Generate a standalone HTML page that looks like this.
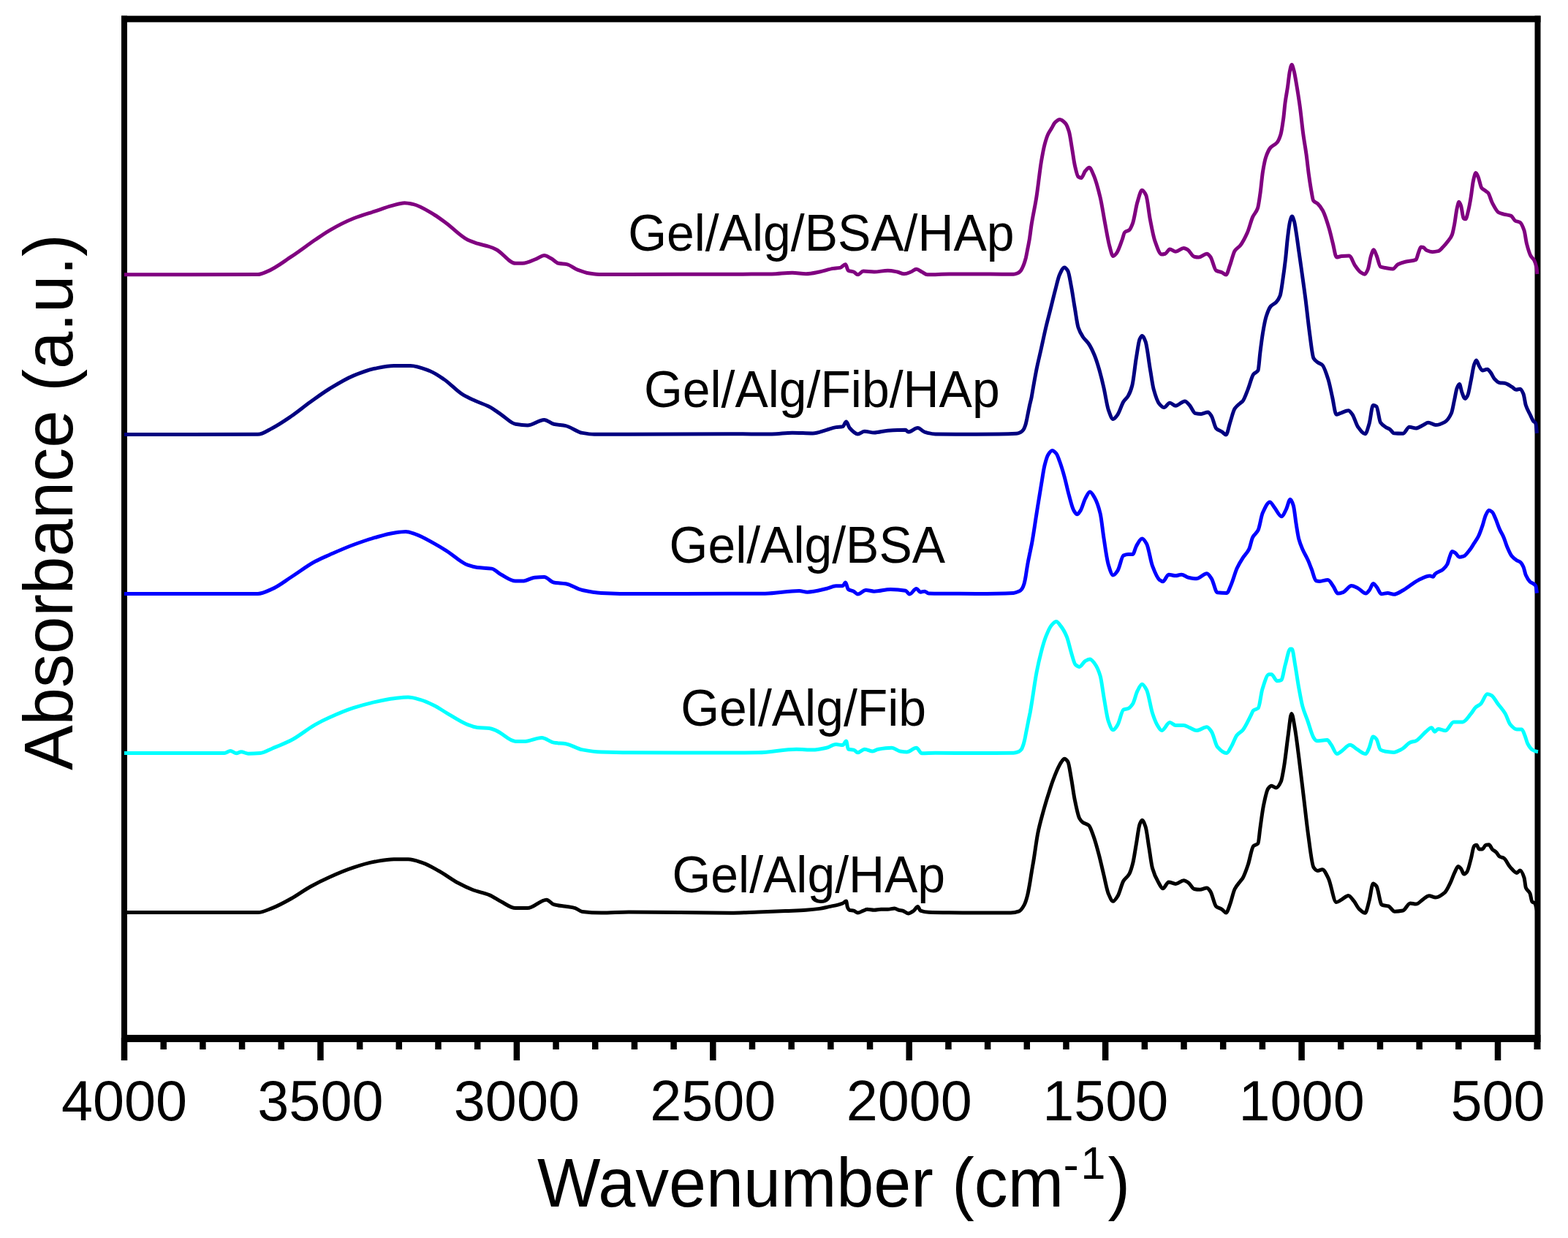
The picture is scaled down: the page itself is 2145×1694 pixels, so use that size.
<!DOCTYPE html>
<html><head><meta charset="utf-8"><title>FTIR spectra</title>
<style>
html,body{margin:0;padding:0;background:#fff;}
body{width:2145px;height:1694px;overflow:hidden;}
svg{display:block;}
text{font-family:"Liberation Sans",Arial,sans-serif;fill:#000;}
</style></head><body>
<svg width="2145" height="1694" viewBox="0 0 2145 1694">
<rect width="2145" height="1694" fill="#fff"/>
<g fill="#000">
<rect x="166" y="21.6" width="8" height="1429.4"/>
<rect x="2099.5" y="21.6" width="8" height="1414.4"/>
<rect x="166" y="21.6" width="1941.5" height="8.8"/>
<rect x="166" y="1416" width="1941.5" height="10"/>
<rect x="165.75" y="1420" width="8.5" height="31.0"/>
<rect x="219.44" y="1420" width="8.5" height="16.0"/>
<rect x="273.12" y="1420" width="8.5" height="16.0"/>
<rect x="326.81" y="1420" width="8.5" height="16.0"/>
<rect x="380.49" y="1420" width="8.5" height="16.0"/>
<rect x="434.18" y="1420" width="8.5" height="31.0"/>
<rect x="487.87" y="1420" width="8.5" height="16.0"/>
<rect x="541.55" y="1420" width="8.5" height="16.0"/>
<rect x="595.24" y="1420" width="8.5" height="16.0"/>
<rect x="648.92" y="1420" width="8.5" height="16.0"/>
<rect x="702.61" y="1420" width="8.5" height="31.0"/>
<rect x="756.30" y="1420" width="8.5" height="16.0"/>
<rect x="809.98" y="1420" width="8.5" height="16.0"/>
<rect x="863.67" y="1420" width="8.5" height="16.0"/>
<rect x="917.35" y="1420" width="8.5" height="16.0"/>
<rect x="971.04" y="1420" width="8.5" height="31.0"/>
<rect x="1024.73" y="1420" width="8.5" height="16.0"/>
<rect x="1078.41" y="1420" width="8.5" height="16.0"/>
<rect x="1132.10" y="1420" width="8.5" height="16.0"/>
<rect x="1185.78" y="1420" width="8.5" height="16.0"/>
<rect x="1239.47" y="1420" width="8.5" height="31.0"/>
<rect x="1293.16" y="1420" width="8.5" height="16.0"/>
<rect x="1346.84" y="1420" width="8.5" height="16.0"/>
<rect x="1400.53" y="1420" width="8.5" height="16.0"/>
<rect x="1454.21" y="1420" width="8.5" height="16.0"/>
<rect x="1507.90" y="1420" width="8.5" height="31.0"/>
<rect x="1561.59" y="1420" width="8.5" height="16.0"/>
<rect x="1615.27" y="1420" width="8.5" height="16.0"/>
<rect x="1668.96" y="1420" width="8.5" height="16.0"/>
<rect x="1722.64" y="1420" width="8.5" height="16.0"/>
<rect x="1776.33" y="1420" width="8.5" height="31.0"/>
<rect x="1830.02" y="1420" width="8.5" height="16.0"/>
<rect x="1883.70" y="1420" width="8.5" height="16.0"/>
<rect x="1937.39" y="1420" width="8.5" height="16.0"/>
<rect x="1991.07" y="1420" width="8.5" height="16.0"/>
<rect x="2044.76" y="1420" width="8.5" height="31.0"/>
<rect x="2098.45" y="1420" width="8.5" height="16.0"/>
</g>
<g fill="none" stroke-width="5.0" stroke-linejoin="round" stroke-linecap="butt">
<path d="M170 1248.5C230.9 1248.5 291.9 1248.5 352.8 1248.5C359.3 1248.5 365.8 1245 372.3 1242.6C381 1239.3 389.8 1234.4 398.5 1229.5C407.2 1224.7 415.9 1218 424.6 1213.2C433.3 1208.4 442 1204.1 450.7 1200.2C461.6 1195.3 472.4 1190.6 483.3 1187.1C493.1 1183.9 502.9 1180.7 512.7 1179C521.4 1177.5 530.1 1175.7 538.8 1175.7C545.3 1175.7 551.9 1175.7 558.4 1175.7C564.9 1175.7 571.5 1178.4 578 1180.6C585.6 1183.1 593.2 1187.8 600.8 1192C609.5 1196.8 618.2 1203.7 626.9 1208.3C633.4 1211.8 640 1215 646.5 1217.5C654.1 1220.4 661.7 1221.5 669.3 1224.6C674.8 1226.8 680.2 1231.1 685.7 1233.8C692.2 1237.1 698.7 1242.6 705.2 1242.6C710.7 1242.6 716.1 1242.6 721.6 1242.6C730.3 1242.6 739 1231.2 747.7 1231.2C751 1231.2 754.2 1236.8 757.5 1237.7C762.9 1239.2 768.4 1239.4 773.8 1240.3C778.1 1241 782.5 1241.4 786.8 1242.6C790.1 1243.5 793.3 1247.1 796.6 1247.5C805.3 1248.6 814 1249.1 822.7 1249.1C835.1 1249.1 847.6 1248 860 1248C906.7 1248 953.3 1249.2 1000 1249.2C1012.4 1249.2 1024.9 1248.4 1037.3 1248C1049.7 1247.6 1062.2 1247 1074.6 1246.5C1083.9 1246.1 1093.3 1245.9 1102.6 1245.3C1108.8 1244.9 1115 1244.3 1121.2 1243.4C1125.6 1242.8 1129.9 1241.5 1134.3 1240.6C1138.6 1239.7 1143 1238.9 1147.3 1237.8C1149.2 1237.3 1151 1236.8 1152.9 1236C1154.5 1235.3 1156 1233.1 1157.6 1233.1C1158.2 1233.1 1158.8 1240.2 1159.4 1241.5C1160.3 1243.5 1161.3 1245 1162.2 1245.3C1164.1 1245.9 1165.9 1245.7 1167.8 1246.2C1169.7 1246.7 1171.5 1249 1173.4 1249C1175.9 1249 1178.4 1247.1 1180.9 1246.2C1182.8 1245.5 1184.6 1244.3 1186.5 1244.3C1189.6 1244.3 1192.7 1245.3 1195.8 1245.3C1198.9 1245.3 1202 1244.3 1205.1 1244.3C1208.2 1244.3 1211.4 1244.3 1214.5 1244.3C1217.6 1244.3 1220.7 1243 1223.8 1243C1225.7 1243 1227.5 1244.9 1229.4 1245.3C1231.3 1245.7 1233.1 1245.8 1235 1246.2C1237.5 1246.8 1239.9 1249.9 1242.4 1249.9C1244.9 1249.9 1247.4 1247.9 1249.9 1246.2C1251.8 1244.9 1253.6 1240.6 1255.5 1240.6C1256.7 1240.6 1258 1245.7 1259.2 1246.2C1262.9 1247.6 1266.7 1248.2 1270.4 1248.3C1279.7 1248.6 1289.1 1248.7 1298.4 1248.8C1310.8 1248.9 1323.3 1249 1335.7 1249C1351.4 1249 1367 1249.1 1382.7 1249.1C1386.5 1249.1 1390.4 1248.2 1394.2 1246.8C1396.5 1245.9 1398.9 1242.3 1401.2 1238.1C1402.6 1235.5 1404.1 1230.9 1405.5 1225.4C1406.4 1221.8 1407.4 1216.4 1408.3 1211.2C1409.3 1205.8 1410.2 1199.3 1411.2 1193.5C1412.1 1187.9 1413.1 1182.7 1414 1177C1415.9 1165.4 1417.8 1149.9 1419.7 1140.4C1422 1128.7 1424.4 1120.7 1426.7 1112.1C1429.1 1103.4 1431.4 1095.5 1433.8 1088C1436.2 1080.5 1438.5 1073 1440.9 1066.7C1443.3 1060.4 1445.6 1054.5 1448 1049.7C1449.3 1047 1450.7 1044.3 1452 1042.5C1453.4 1040.7 1454.7 1038.2 1456.1 1038.2C1457.7 1038.2 1459.2 1039.9 1460.8 1042.2C1462.4 1044.5 1464 1057.3 1465.6 1066C1467.2 1074.6 1468.7 1086.9 1470.3 1094.5C1472.4 1104.8 1474.6 1116.1 1476.7 1119.9C1478.3 1122.7 1479.8 1124.3 1481.4 1125.4C1484.1 1127.3 1486.7 1127.2 1489.4 1129.4C1491.5 1131.2 1493.6 1137.9 1495.7 1143.6C1498.3 1150.7 1501 1160.6 1503.6 1170.6C1505.7 1178.7 1507.9 1188.7 1510 1197.5C1512.1 1206.1 1514.2 1218.1 1516.3 1222.9C1518.4 1227.8 1520.6 1233.2 1522.7 1233.2C1524.8 1233.2 1526.9 1229.4 1529 1226.1C1531.6 1222 1534.3 1209.7 1536.9 1205.4C1539.5 1201.1 1542.2 1200.6 1544.8 1195.9C1546.4 1193.1 1548 1187.9 1549.6 1181.7C1551.2 1175.5 1552.8 1163.8 1554.4 1154.7C1556 1145.8 1557.5 1131.9 1559.1 1127.8C1560.2 1125 1561.2 1122.2 1562.3 1122.2C1563.9 1122.2 1565.4 1126.5 1567 1131C1568.6 1135.5 1570.2 1149.9 1571.8 1159.5C1573.4 1168.9 1574.9 1182.4 1576.5 1188C1579.2 1197.5 1581.8 1202.4 1584.5 1207C1586.6 1210.7 1588.7 1215.8 1590.8 1215.8C1593.4 1215.8 1596.1 1207 1598.7 1207C1601.9 1207 1605 1209.4 1608.2 1209.4C1611.9 1209.4 1615.6 1204.7 1619.3 1204.7C1621.4 1204.7 1623.6 1206.4 1625.7 1207.8C1628.3 1209.5 1631 1216 1633.6 1216.5C1636.2 1217 1638.9 1217.3 1641.5 1217.3C1644.7 1217.3 1647.8 1215 1651 1215C1652.6 1215 1654.2 1217.5 1655.8 1219.7C1658.4 1223.3 1661.1 1238.1 1663.7 1240.3C1666.3 1242.5 1669 1242.6 1671.6 1244.3C1673.5 1245.5 1675.3 1249 1677.2 1249C1679 1249 1680.9 1241.9 1682.7 1237.2C1684.8 1231.7 1687 1220.7 1689.1 1216.5C1691.7 1211.3 1694.4 1208.9 1697 1205.4C1698 1204.1 1699 1203.2 1700 1201.6C1702.4 1197.7 1704.9 1190.4 1707.3 1183.3C1709.7 1176.2 1712.2 1160.1 1714.6 1157.7C1716.7 1155.6 1718.9 1156.6 1721 1154C1721.9 1152.9 1722.9 1140.4 1723.8 1133.9C1725.3 1123.2 1726.9 1110.3 1728.4 1102.8C1730.5 1092.4 1732.7 1081.8 1734.8 1079C1736.3 1077.1 1737.8 1075.3 1739.3 1075.3C1741.5 1075.3 1743.6 1078 1745.8 1078C1747.9 1078 1750.1 1074.3 1752.2 1069.8C1753.7 1066.6 1755.2 1056.7 1756.7 1047.8C1758.5 1037 1760.4 1018.5 1762.2 1005.8C1763.7 995.2 1765.3 976.5 1766.8 976.5C1768.3 976.5 1769.9 988.3 1771.4 996.6C1773.2 1006.6 1775.1 1022.7 1776.9 1036.9C1779.3 1055.8 1781.8 1077.1 1784.2 1097.3C1786 1112.5 1787.9 1130.1 1789.7 1143C1792.1 1160.1 1794.6 1183.4 1797 1186.9C1798.8 1189.5 1800.7 1191.5 1802.5 1191.5C1804.6 1191.5 1806.8 1189.7 1808.9 1189.7C1811.6 1189.7 1814.4 1196.3 1817.1 1201.6C1820.8 1208.6 1824.4 1234.5 1828.1 1234.5C1830.5 1234.5 1833 1232.2 1835.4 1230.9C1838.5 1229.2 1841.5 1225.4 1844.6 1225.4C1847 1225.4 1849.5 1229.8 1851.9 1232.7C1854.3 1235.6 1856.8 1241.4 1859.2 1243.7C1862 1246.3 1864.7 1249.2 1867.5 1249.2C1869.3 1249.2 1871.2 1239.2 1873 1232.7C1874.8 1226.3 1876.6 1208.9 1878.4 1208.9C1879.9 1208.9 1881.5 1210.7 1883 1212.6C1885.4 1215.6 1887.9 1237.3 1890.3 1238.2C1893.4 1239.4 1896.4 1239 1899.5 1240C1902.3 1240.9 1905.1 1247.2 1907.9 1247.2C1911.6 1247.2 1915.4 1246.7 1919.1 1246C1922.5 1245.3 1925.8 1235.9 1929.2 1235.9C1931.8 1235.9 1934.4 1237.1 1937 1237.1C1940.4 1237.1 1943.7 1232.4 1947.1 1230.3C1949.7 1228.7 1952.4 1225.8 1955 1225.8C1958 1225.8 1960.9 1228.1 1963.9 1228.1C1968 1228.1 1972.2 1224.9 1976.3 1221.4C1978.9 1219.2 1981.5 1213.2 1984.1 1207.9C1986 1204.1 1987.8 1198.2 1989.7 1194.4C1991.4 1191 1993.1 1185.5 1994.8 1185.5C1996.1 1185.5 1997.4 1187.3 1998.7 1188.8C2000 1190.3 2001.3 1196.1 2002.6 1196.1C2003.9 1196.1 2005.3 1194.8 2006.6 1193.3C2008.5 1191.2 2010.3 1182.1 2012.2 1175.4C2013.7 1170 2015.2 1158.3 2016.7 1157.4C2017.8 1156.8 2018.9 1156.3 2020 1156.3C2021.1 1156.3 2022.3 1161.9 2023.4 1161.9C2024.9 1161.9 2026.4 1161.9 2027.9 1161.9C2029.4 1161.9 2030.9 1156.7 2032.4 1156.3C2033.9 1155.9 2035.4 1155.7 2036.9 1155.7C2038.4 1155.7 2039.8 1160.4 2041.3 1161.9C2043.2 1163.8 2045.1 1164.5 2047 1166.4C2048.5 1167.8 2049.9 1171.1 2051.4 1172C2053.3 1173.2 2055.2 1173.1 2057.1 1174.2C2060.1 1175.9 2063 1183.4 2066 1186.6C2069 1189.8 2072 1194.4 2075 1194.4C2076.5 1194.4 2078 1191.1 2079.5 1191.1C2081.4 1191.1 2083.2 1195.6 2085.1 1201.2C2085.8 1203.4 2086.6 1212.8 2087.3 1214.6C2089.2 1219.3 2091.1 1218.4 2093 1222.5C2093.9 1224.5 2094.9 1232.7 2095.8 1233.7C2097.1 1235 2098.4 1234.6 2099.7 1235.9C2100.8 1237 2101.9 1244 2103 1248" stroke="#000000"/>
<path d="M170 1030.5C215.7 1030.5 261.3 1030.5 307 1030.5C309.7 1030.5 312.5 1027.5 315.2 1027.5C317.9 1027.5 320.7 1030.8 323.4 1030.8C325.6 1030.8 327.7 1028.8 329.9 1028.8C333.2 1028.8 336.4 1031.2 339.7 1031.2C345.1 1031.2 350.6 1030.9 356 1030.5C361.4 1030.1 366.9 1026.4 372.3 1024.2C381 1020.6 389.8 1017.3 398.5 1012.8C409.4 1007.2 420.2 997.7 431.1 991.6C437.6 987.9 444.2 984.7 450.7 981.8C461.6 976.9 472.4 972.2 483.3 968.7C493.1 965.5 502.9 962.8 512.7 960.6C521.4 958.7 530.1 956.7 538.8 955.7C545.3 955 551.9 954.1 558.4 954.1C563.8 954.1 569.3 955.9 574.7 957.3C581.2 959 587.8 962.3 594.3 965.5C599.7 968.2 605.2 972.2 610.6 975.3C620.4 981 630.2 987.9 640 991.6C644.3 993.2 648.7 995 653 995.5C658.4 996.1 663.9 995.9 669.3 996.5C672.6 996.9 675.8 998.5 679.1 999.8C687.8 1003.3 696.5 1014.4 705.2 1014.4C709.6 1014.4 713.9 1014.4 718.3 1014.4C725.9 1014.4 733.5 1009.5 741.1 1009.5C746.6 1009.5 752 1015.2 757.5 1016.1C762.9 1017 768.4 1016.9 773.8 1017.7C781.4 1018.8 789 1024.5 796.6 1025.9C805.3 1027.5 814 1028.8 822.7 1029.1C835.1 1029.5 847.6 1029.8 860 1029.8C906.7 1029.9 953.3 1030 1000 1030C1012.4 1030 1024.9 1029.9 1037.3 1029.8C1054.7 1029.6 1072.1 1025.2 1089.5 1025.2C1097 1025.2 1104.4 1026.1 1111.9 1026.1C1118.1 1026.1 1124.3 1024.6 1130.5 1023.3C1134.9 1022.4 1139.2 1018.6 1143.6 1018.6C1146.7 1018.6 1149.8 1019.6 1152.9 1019.6C1154.5 1019.6 1156 1014 1157.6 1014C1158.5 1014 1159.5 1024.9 1160.4 1025.2C1162.9 1025.9 1165.3 1025.6 1167.8 1026.1C1169.7 1026.5 1171.5 1029.8 1173.4 1029.8C1176.5 1029.8 1179.6 1025.2 1182.7 1025.2C1186.4 1025.2 1190.2 1028 1193.9 1028C1196.4 1028 1198.9 1025.6 1201.4 1025.2C1207.6 1024.1 1213.8 1023.3 1220 1023.3C1223.7 1023.3 1227.5 1027.4 1231.2 1028C1234.3 1028.5 1237.5 1028.9 1240.6 1028.9C1244.9 1028.9 1249.3 1023.3 1253.6 1023.3C1256.1 1023.3 1258.6 1030.8 1261.1 1030.8C1267.3 1030.8 1273.5 1030.3 1279.7 1030.3C1298.4 1030.3 1317 1030.5 1335.7 1030.5C1352.6 1030.5 1369.6 1030.5 1386.5 1030.3C1388.8 1030.3 1391.1 1029.6 1393.4 1028.7C1394.7 1028.2 1396 1027 1397.3 1025.3C1398.2 1024.2 1399 1021.7 1399.9 1019.1C1400.6 1017.1 1401.2 1014.4 1401.9 1011.5C1402.4 1009.3 1402.9 1006.3 1403.4 1003.8C1404 1000.6 1404.7 997.4 1405.3 994.2C1405.9 991 1406.6 987.7 1407.2 984.6C1407.9 981.3 1408.5 978.5 1409.2 975C1410 970.6 1410.9 965.1 1411.7 960C1413.8 947.1 1415.9 931.3 1418 920.3C1420.1 909.2 1422.3 899.8 1424.4 891.8C1426.5 883.9 1428.6 876.5 1430.7 871.2C1433.3 864.6 1436 858.2 1438.6 855.4C1440.7 853.1 1442.9 850.6 1445 850.6C1447.1 850.6 1449.2 854.2 1451.3 856.9C1454 860.3 1456.6 864.8 1459.3 871.2C1461.4 876.2 1463.5 886.7 1465.6 893.4C1467.4 899.2 1469.3 907.6 1471.1 909.3C1473 911 1474.8 912.4 1476.7 912.4C1479.3 912.4 1482 905.9 1484.6 904.5C1486.7 903.4 1488.9 902.1 1491 902.1C1493.1 902.1 1495.2 905.1 1497.3 907.7C1499.9 911 1502.6 916.3 1505.2 925.1C1506.8 930.4 1508.4 944.6 1510 953.6C1512.1 965.4 1514.2 981.1 1516.3 986.9C1518.4 992.8 1520.6 998.8 1522.7 998.8C1524.8 998.8 1526.9 995 1529 991.7C1531.6 987.6 1534.3 972.3 1536.9 971.1C1539 970.2 1541.2 970.4 1543.3 969.5C1545.4 968.7 1547.5 966.2 1549.6 963.1C1551.7 960 1553.8 949.8 1555.9 945.7C1558 941.6 1560.2 936.2 1562.3 936.2C1564.4 936.2 1566.5 940.2 1568.6 944.1C1571.2 949 1573.9 967.8 1576.5 975.8C1578.6 982.3 1580.8 988.1 1582.9 991.7C1585 995.2 1587.1 999.6 1589.2 999.6C1592.9 999.6 1596.6 988.5 1600.3 988.5C1602.9 988.5 1605.6 992.5 1608.2 992.5C1611.9 992.5 1615.6 992.5 1619.3 992.5C1622 992.5 1624.6 994.5 1627.3 995.6C1630.5 996.9 1633.6 999.6 1636.8 999.6C1641.5 999.6 1646.3 994.8 1651 994.8C1653.1 994.8 1655.3 998.2 1657.4 1001.2C1660 1004.9 1662.7 1018.8 1665.3 1021.8C1669.5 1026.6 1673.8 1030.5 1678 1030.5C1680.1 1030.5 1682.2 1025.2 1684.3 1021.8C1686.9 1017.5 1689.6 1009.1 1692.2 1005.9C1694.8 1002.7 1697.4 1002.1 1700 999.1C1703.7 994.8 1707.5 986 1711.2 978.9C1712.3 976.7 1713.5 973.2 1714.6 972.2C1716.8 970.3 1719.1 970.9 1721.3 968.8C1723.2 967.1 1725 948.8 1726.9 943C1729.9 933.7 1732.9 922.8 1735.9 922.8C1737 922.8 1738.2 922.8 1739.3 922.8C1741.9 922.8 1744.5 931.8 1747.1 931.8C1749 931.8 1750.8 931.4 1752.7 930.7C1754.6 930 1756.4 915.8 1758.3 909.4C1760.6 901.6 1762.8 888 1765.1 888C1765.8 888 1766.6 888 1767.3 888C1768.8 888 1770.3 902.2 1771.8 910.5C1773.3 918.8 1774.8 930.1 1776.3 938.5C1778.2 948.9 1780 959.8 1781.9 966.6C1784.1 974.8 1786.4 979.4 1788.6 985.6C1791.6 994 1794.6 1006.2 1797.6 1010.3C1798.7 1011.9 1799.9 1013.7 1801 1013.7C1805.8 1013.7 1810.7 1012.6 1815.5 1012.6C1817.4 1012.6 1819.3 1016.8 1821.2 1019.3C1823.8 1022.8 1826.4 1031.6 1829 1031.6C1830.9 1031.6 1832.7 1029.5 1834.6 1028.3C1838.7 1025.6 1842.9 1019.3 1847 1019.3C1850 1019.3 1852.9 1023.2 1855.9 1024.9C1860 1027.3 1864.2 1031.6 1868.3 1031.6C1869.8 1031.6 1871.3 1027 1872.8 1023.8C1874.7 1019.8 1876.5 1008.1 1878.4 1008.1C1879.9 1008.1 1881.4 1009.7 1882.9 1011.4C1884.8 1013.5 1886.6 1024.8 1888.5 1026C1890.7 1027.4 1893 1027.9 1895.2 1028.3C1898.9 1028.9 1902.7 1029.4 1906.4 1029.4C1910.3 1029.4 1914.1 1026.9 1918 1024.9C1921.7 1022.9 1925.5 1017.4 1929.2 1015.9C1931.8 1014.8 1934.4 1014.8 1937 1013.7C1941.5 1011.8 1946 1004.9 1950.5 1001.3C1953.1 999.2 1955.7 995.7 1958.3 995.7C1959.8 995.7 1961.3 1001.3 1962.8 1001.3C1964.3 1001.3 1965.8 997.4 1967.3 997.4C1970.7 997.4 1974 999.7 1977.4 999.7C1981.1 999.7 1984.9 987.9 1988.6 987.9C1992.7 987.9 1996.9 987.9 2001 987.9C2004.7 987.9 2008.5 981 2012.2 976.7C2014.4 974.1 2016.7 969.7 2018.9 967.7C2021.1 965.7 2023.4 965.2 2025.6 963.2C2028.6 960.5 2031.6 949.7 2034.6 949.7C2036.5 949.7 2038.3 950.5 2040.2 951.4C2043.2 952.8 2046.2 959.2 2049.2 963.2C2052.6 967.7 2055.9 971 2059.3 976.7C2061.5 980.5 2063.8 988.8 2066 991.3C2069 994.7 2072 998 2075 998C2077.2 998 2079.5 998 2081.7 998C2083.2 998 2084.7 1003.4 2086.2 1007C2087.3 1009.7 2088.5 1014.9 2089.6 1017.1C2091.8 1021.4 2094.1 1024.6 2096.3 1026C2098.2 1027.2 2100 1028 2101.9 1028.3C2102.6 1028.4 2103.3 1028.4 2104 1028.5" stroke="#00ffff"/>
<path d="M170 812.4C230.9 812.4 291.9 812.4 352.8 812.4C359.3 812.4 365.8 808.7 372.3 805.9C381 802.2 389.8 795.1 398.5 789.5C409.4 782.6 420.2 774.1 431.1 768.3C437.6 764.8 444.2 762.1 450.7 759.2C461.6 754.4 472.4 749.5 483.3 745.5C493.1 741.9 502.9 738.5 512.7 735.7C521.4 733.2 530.1 730.4 538.8 729.2C544.2 728.4 549.7 727.5 555.1 727.5C559.5 727.5 563.8 729.4 568.2 730.8C576.9 733.6 585.6 739.1 594.3 743.9C599.7 746.9 605.2 750.2 610.6 753.6C620.4 759.7 630.2 769.8 640 773.2C644.3 774.7 648.7 775.9 653 776.5C659.5 777.3 666.1 777.1 672.6 778.1C677 778.8 681.3 784 685.7 786.3C692.2 789.7 698.7 795.1 705.2 795.1C708.5 795.1 711.7 795.1 715 795.1C720.5 795.1 725.9 790.7 731.4 790.2C735.7 789.8 740.1 789.5 744.4 789.5C748.8 789.5 753.1 796.2 757.5 797C762.9 798 768.4 797.8 773.8 798.7C781.4 799.9 789 805.8 796.6 807.5C805.3 809.4 814 811 822.7 811.4C838.5 812.1 854.2 812.6 870 812.6C913.3 812.6 956.7 812.2 1000 812.2C1015.5 812.2 1031.1 812.2 1046.6 812.2C1062.1 812.2 1077.7 808.5 1093.2 808.5C1096.9 808.5 1100.7 810.2 1104.4 810.2C1113.1 810.2 1121.8 807.5 1130.5 805.5C1134.9 804.5 1139.2 801.8 1143.6 801.8C1146.7 801.8 1149.8 801.8 1152.9 801.8C1154.1 801.8 1155.4 797.1 1156.6 797.1C1157.9 797.1 1159.1 805.5 1160.4 806.4C1162.9 808.2 1165.3 808 1167.8 809.2C1169.7 810.1 1171.5 813 1173.4 813C1177.1 813 1180.9 807.4 1184.6 807.4C1188.3 807.4 1192.1 809.2 1195.8 809.2C1203.3 809.2 1210.7 806.4 1218.2 806.4C1225 806.4 1231.9 807 1238.7 808.3C1240.6 808.7 1242.4 813 1244.3 813C1247.4 813 1250.5 805.5 1253.6 805.5C1255.5 805.5 1257.3 810.2 1259.2 810.2C1261.1 810.2 1262.9 809.2 1264.8 809.2C1266.7 809.2 1268.5 812 1270.4 812C1276.6 812.2 1282.8 812.2 1289 812.2C1304.6 812.3 1320.1 812.4 1335.7 812.4C1352.6 812.4 1369.6 812.2 1386.5 811.4C1389.1 811.3 1391.6 810.3 1394.2 809.1C1395.5 808.5 1396.7 807.4 1398 805.7C1399 804.3 1400.1 801.7 1401.1 798.4C1401.7 796.4 1402.4 792.9 1403 789.5C1403.5 786.8 1404 783 1404.5 779.9C1405 776.6 1405.6 773.2 1406.1 770.3C1406.7 766.8 1407.4 763.9 1408 760.8C1408.4 758.8 1408.8 756.9 1409.2 755C1410 750.9 1410.9 747.2 1411.7 742.7C1413.8 731.3 1415.9 716.1 1418 703C1420.1 689.7 1422.3 676.1 1424.4 663.4C1426 654.1 1427.5 642.6 1429.1 636.5C1430.7 630.2 1432.3 624.7 1433.9 622.2C1435.7 619.4 1437.6 616.6 1439.4 616.6C1441.3 616.6 1443.1 618.5 1445 620.6C1446.6 622.3 1448.1 627.5 1449.7 631.7C1451.8 637.5 1454 644.7 1456.1 652.3C1458.2 659.8 1460.3 670.2 1462.4 677.7C1464.5 685.3 1466.7 694.7 1468.8 698.3C1470.4 700.9 1471.9 703.8 1473.5 703.8C1475.1 703.8 1476.7 700.8 1478.3 698.3C1480.4 695 1482.5 686.3 1484.6 682.4C1486.7 678.4 1488.9 672.9 1491 672.9C1493.1 672.9 1495.2 677.2 1497.3 680.8C1499.9 685.3 1502.6 692.1 1505.2 703C1506.8 709.6 1508.4 726.2 1510 736.3C1512.1 749.6 1514.2 766.1 1516.3 772.8C1518.4 779.7 1520.6 787 1522.7 787C1524.8 787 1526.9 783.7 1529 780.7C1531.6 777 1534.3 761.3 1536.9 760.1C1539 759.2 1541.2 758.5 1543.3 758.5C1545.4 758.5 1547.5 758.5 1549.6 758.5C1551.2 758.5 1552.8 750.1 1554.4 747.4C1557 742.9 1559.7 737.1 1562.3 737.1C1564.4 737.1 1566.5 740.6 1568.6 744.2C1571.2 748.7 1573.9 767.5 1576.5 774.4C1579.7 782.8 1582.9 791 1586.1 793.4C1587.7 794.6 1589.2 795.8 1590.8 795.8C1593.4 795.8 1596.1 786.2 1598.7 786.2C1601.9 786.2 1605 787.8 1608.2 787.8C1610.9 787.8 1613.5 786.2 1616.2 786.2C1619.4 786.2 1622.5 789.5 1625.7 790.2C1629.4 791 1633.1 791.8 1636.8 791.8C1641.5 791.8 1646.3 784.7 1651 784.7C1653.1 784.7 1655.3 788.6 1657.4 791.8C1660 795.7 1662.7 810.5 1665.3 810.8C1669.5 811.4 1673.8 811.6 1678 811.6C1680.1 811.6 1682.2 804.4 1684.3 799.7C1686.9 793.8 1689.6 783.2 1692.2 777.5C1694.9 771.7 1697.5 767.5 1700.2 763.3C1703 758.9 1705.9 757.2 1708.7 751.4C1710.3 748.1 1712 738.5 1713.6 735.3C1716.1 730.4 1718.6 730.4 1721.1 725.4C1723.2 721.3 1725.2 706.4 1727.3 701.8C1730.6 694.4 1733.9 686.9 1737.2 686.9C1739.3 686.9 1741.3 691.9 1743.4 694.4C1746.7 698.5 1750 706.8 1753.3 706.8C1755.4 706.8 1757.4 700.8 1759.5 696.8C1761.4 693.2 1763.2 683.2 1765.1 683.2C1766.5 683.2 1768 687.4 1769.4 691.9C1770.6 695.8 1771.9 709.1 1773.1 716.7C1774.3 724.3 1775.6 733.1 1776.8 737.7C1778.5 744 1780.1 747.5 1781.8 751.4C1784.3 757.2 1786.7 760.8 1789.2 766.3C1790.9 770 1792.5 774.5 1794.2 778.7C1796.3 783.9 1798.3 794.3 1800.4 794.8C1802.1 795.2 1803.7 795.4 1805.4 795.4C1809.1 795.4 1812.8 793.5 1816.5 793.5C1819 793.5 1821.4 798.8 1823.9 802.2C1826 805 1828 812.1 1830.1 812.1C1832.6 812.1 1835.1 811.2 1837.6 810.3C1841.3 809 1845 801.6 1848.7 801.6C1851.6 801.6 1854.5 803.4 1857.4 804.7C1861.1 806.4 1864.9 812.1 1868.6 812.1C1870.2 812.1 1871.9 809.3 1873.5 807.2C1875.2 805.1 1876.8 798.5 1878.5 798.5C1880.1 798.5 1881.8 801.5 1883.4 803.4C1885.5 805.9 1887.5 812.7 1889.6 812.7C1892.5 812.7 1895.4 811.5 1898.3 811.5C1901.1 811.5 1903.9 813.3 1906.7 813.3C1911.2 813.3 1915.7 809.6 1920.2 807.2C1926.9 803.6 1933.7 796.8 1940.4 793.7C1945.6 791.3 1950.9 788.1 1956.1 788.1C1957.6 788.1 1959.1 789.2 1960.6 789.2C1961.3 789.2 1962.1 786.5 1962.8 785.8C1966.5 782.2 1970.3 782.2 1974 779.1C1975.9 777.5 1977.8 775.8 1979.7 772.4C1980.8 770.5 1981.9 765.2 1983 762.3C1984.1 759.3 1985.3 754.4 1986.4 754.4C1987.9 754.4 1989.4 755.7 1990.9 756.7C1992.8 757.9 1994.6 762.3 1996.5 762.3C1998.4 762.3 2000.2 761.8 2002.1 761.2C2004.7 760.4 2007.3 756.4 2009.9 753.3C2012.2 750.6 2014.4 746.7 2016.7 743.2C2018.6 740.3 2020.4 737.9 2022.3 734.2C2024.2 730.5 2026 725 2027.9 719.6C2029.4 715.3 2030.9 708.2 2032.4 705.1C2033.9 702 2035.4 698.3 2036.9 698.3C2038.4 698.3 2039.8 699.4 2041.3 700.6C2042.8 701.8 2044.3 706.2 2045.8 709.6C2047.7 713.8 2049.5 719.9 2051.4 724.1C2053.3 728.4 2055.2 731 2057.1 735.4C2058.6 738.8 2060 744.3 2061.5 747.7C2063.8 753 2066 758.5 2068.3 761.2C2070.5 763.8 2072.8 765.4 2075 766.8C2076.5 767.7 2078 767.9 2079.5 769C2081 770.1 2082.5 772.5 2084 775.7C2085.1 778 2086.2 784.6 2087.3 787C2089.2 791.2 2091.1 794 2093 795.9C2095.6 798.5 2098.2 797.5 2100.8 801.5C2101.4 802.4 2101.9 808.2 2102.5 811.6" stroke="#0000ff"/>
<path d="M170 594.5C230.9 594.4 291.9 594.5 352.8 594.3C359.3 594.3 365.8 589.2 372.3 585.9C381 581.5 389.8 575.4 398.5 569.5C407.2 563.6 415.9 556.2 424.6 550C433.3 543.8 442 537.3 450.7 532C461.6 525.3 472.4 518.6 483.3 514.1C493.1 510.1 502.9 506.3 512.7 504.3C521.4 502.5 530.1 500.4 538.8 500.4C546.4 500.4 554 500.4 561.6 500.4C570.3 500.4 579.1 504.2 587.8 507.5C594.3 510 600.8 514.6 607.3 519C616 524.9 624.7 535 633.4 540.2C638.9 543.5 644.3 545.8 649.8 548.3C656.3 551.3 662.8 553.1 669.3 556.5C674.8 559.3 680.2 563.7 685.7 567.3C692.2 571.6 698.7 579.2 705.2 580.3C710.7 581.3 716.1 582 721.6 582C729.2 582 736.8 574.4 744.4 574.4C748.8 574.4 753.1 579.3 757.5 580.3C762.9 581.5 768.4 581.5 773.8 582.6C781.4 584.2 789 591.1 796.6 592.4C802.1 593.4 807.5 594.3 813 594.3C828.7 594.3 844.3 594.3 860 594.3C906.7 594.3 953.3 593.8 1000 593.8C1018.6 593.8 1037.3 594 1055.9 594C1065.2 594 1074.6 592.2 1083.9 592.2C1093.2 592.2 1102.6 593 1111.9 593C1118.1 593 1124.3 590 1130.5 588.3C1134.9 587.1 1139.2 585.3 1143.6 584.6C1146.7 584.1 1149.8 584.3 1152.9 583.6C1154.5 583.3 1156 577.1 1157.6 577.1C1159.1 577.1 1160.7 583.8 1162.2 585.5C1165.9 589.7 1169.7 593.9 1173.4 593.9C1176.5 593.9 1179.6 590.2 1182.7 590.2C1187.1 590.2 1191.4 592 1195.8 592C1202 592 1208.3 589.6 1214.5 589.2C1222.6 588.7 1230.6 588.3 1238.7 588.3C1239.9 588.3 1241.2 591.1 1242.4 591.1C1246.8 591.1 1251.1 585.5 1255.5 585.5C1258.6 585.5 1261.7 590.2 1264.8 591.1C1269.8 592.6 1274.7 594 1279.7 594C1298.4 594.2 1317 594.2 1335.7 594.2C1353.9 594.2 1372.1 594.1 1390.3 593.3C1392.2 593.2 1394.2 592.3 1396.1 591.4C1397.4 590.8 1398.7 589.7 1400 588C1400.9 586.9 1401.7 584.7 1402.6 582.2C1403.4 580 1404.1 576.1 1404.9 572.6C1405.5 569.7 1406.2 566.1 1406.8 563C1407.5 559.7 1408.1 556.4 1408.8 553.4C1409.6 550 1410.3 547.7 1411.1 543.8C1411.3 542.8 1411.5 541.4 1411.7 540.2C1413.8 528 1415.9 515.7 1418 505.3C1420.1 494.8 1422.3 486.4 1424.4 476.8C1426.5 467.4 1428.6 457.2 1430.7 448.3C1432.8 439.3 1435 431.4 1437.1 422.9C1439.2 414.5 1441.3 405.5 1443.4 397.6C1445.5 389.7 1447.6 379.8 1449.7 375.4C1451.8 370.9 1454 365.9 1456.1 365.9C1457.7 365.9 1459.2 368 1460.8 370.6C1462.4 373.2 1464 384.4 1465.6 392.8C1467.2 401 1468.7 412.2 1470.3 421.3C1471.9 430.6 1473.5 443.4 1475.1 448.3C1477.2 454.7 1479.3 457.8 1481.4 461C1484.1 465 1486.7 466.5 1489.4 470.5C1492 474.4 1494.7 479.9 1497.3 486.3C1499.4 491.4 1501.5 498.1 1503.6 505.3C1505.7 512.6 1507.9 521.4 1510 530.7C1512.1 539.8 1514.2 554.9 1516.3 560.8C1518.4 566.8 1520.6 573.5 1522.7 573.5C1524.8 573.5 1526.9 570.1 1529 567.2C1531.6 563.6 1534.3 553.8 1536.9 549.7C1539 546.4 1541.2 545.4 1543.3 541.8C1545.1 538.7 1547 534.4 1548.8 527.5C1550.7 520.5 1552.5 500.7 1554.4 489.5C1556 480.1 1557.5 467.6 1559.1 464.1C1560.2 461.7 1561.2 459.4 1562.3 459.4C1563.9 459.4 1565.4 463.3 1567 467.3C1569.1 472.7 1571.3 492.9 1573.4 505.3C1575 514.4 1576.5 526.5 1578.1 532.3C1580.8 542.1 1583.4 549.9 1586.1 552.9C1588.2 555.3 1590.3 557.6 1592.4 557.6C1595 557.6 1597.7 551.3 1600.3 551.3C1602.9 551.3 1605.6 555.3 1608.2 555.3C1612.4 555.3 1616.7 548.9 1620.9 548.9C1623 548.9 1625.2 552.2 1627.3 554.5C1629.9 557.3 1632.6 565.1 1635.2 565.6C1637.8 566.1 1640.5 566.4 1643.1 566.4C1646.3 566.4 1649.4 564 1652.6 564C1654.2 564 1655.8 567 1657.4 569.5C1659.5 572.8 1661.6 584.1 1663.7 586.2C1666.3 588.8 1669 589.2 1671.6 590.9C1673.5 592.1 1675.3 594.9 1677.2 594.9C1679 594.9 1680.9 583.7 1682.7 578.2C1684.8 571.8 1687 562.4 1689.1 559.2C1691.7 555.2 1694.4 553.6 1697 551.3C1698 550.4 1699 550 1700 548.9C1702.4 546.2 1704.9 538.4 1707.3 532.4C1709.7 526.4 1712.2 515.5 1714.6 512.3C1716.7 509.5 1718.9 510.5 1721 506.8C1721.9 505.2 1722.9 490.4 1723.8 483C1725 473.2 1726.3 462.9 1727.5 455.6C1729 446.7 1730.5 438.4 1732 433.6C1734.1 426.8 1736.3 421.4 1738.4 419C1740.9 416.2 1743.3 416.1 1745.8 413.5C1747.6 411.6 1749.4 409.2 1751.2 404.3C1752.4 400.9 1753.7 390.6 1754.9 382.4C1756.1 374.4 1757.3 365.4 1758.5 355C1759.5 346.3 1760.5 333.2 1761.5 325C1762.5 316.8 1763.5 307.9 1764.5 304C1765.5 300.1 1766.5 296 1767.5 296C1768.5 296 1769.5 299.7 1770.5 303C1771.4 306 1772.3 312.7 1773.2 318.3C1774.5 326.2 1775.7 336.1 1777 345C1778.2 353.2 1779.3 361.2 1780.5 369.5C1782.3 382.6 1784.2 395.5 1786 409.8C1787.8 424.1 1789.7 442.4 1791.5 455.6C1793.3 468.8 1795.2 487.1 1797 490.3C1798.8 493.5 1800.7 494.4 1802.5 495.8C1804.6 497.4 1806.8 497.6 1808.9 499.5C1811.6 502 1814.4 510.9 1817.1 519.6C1818.9 525.4 1820.8 535.5 1822.6 543.4C1824.4 551.3 1826.3 567.2 1828.1 567.2C1829.9 567.2 1831.8 566 1833.6 565.4C1837.3 564.2 1840.9 561.7 1844.6 561.7C1846.4 561.7 1848.3 564.7 1850.1 567.2C1852.5 570.5 1855 580.3 1857.4 583.7C1860.8 588.4 1864.1 593.7 1867.5 593.7C1869.3 593.7 1871.2 586 1873 580C1874.8 574.1 1876.6 554.4 1878.4 554.4C1879.9 554.4 1881.5 555.1 1883 556.2C1884.8 557.5 1886.7 575.5 1888.5 578.2C1890.9 581.8 1893.4 583.1 1895.8 584.6C1897.6 585.7 1899.5 586.1 1901.3 587.3C1903.1 588.5 1905 592.6 1906.8 592.8C1910.9 593.2 1915 593.3 1919.1 593.3C1922.1 593.3 1925 584.3 1928 584.3C1931 584.3 1934 586 1937 586C1940.4 586 1943.7 583.1 1947.1 581.5C1949.3 580.5 1951.6 578.2 1953.8 578.2C1957.2 578.2 1960.5 581.5 1963.9 581.5C1968 581.5 1972.2 579.8 1976.3 577.6C1979.3 576 1982.3 572.2 1985.3 565.8C1986.8 562.7 1988.2 553.4 1989.7 546.8C1990.8 541.7 1992 533.9 1993.1 531.1C1994.2 528.3 1995.4 525.5 1996.5 525.5C1997.6 525.5 1998.7 533.9 1999.8 536.7C2001.3 540.5 2002.8 545.6 2004.3 545.6C2005.4 545.6 2006.6 543.4 2007.7 541.2C2009.2 538.3 2010.7 528.1 2012.2 521C2013.7 513.9 2015.2 502.6 2016.7 498.5C2017.6 495.9 2018.6 492.9 2019.5 492.9C2020.8 492.9 2022.1 498.7 2023.4 500.8C2024.9 503.2 2026.4 506.9 2027.9 506.9C2030.1 506.9 2032.4 505.3 2034.6 505.3C2036.1 505.3 2037.6 507.9 2039.1 509.7C2041 511.9 2042.8 516.8 2044.7 518.7C2046.9 521 2049.2 523.5 2051.4 523.8C2053.7 524.1 2055.9 524 2058.2 524.3C2061.6 524.7 2064.9 527.4 2068.3 529.4C2070.2 530.5 2072 533.3 2073.9 533.3C2075.8 533.3 2077.6 532.2 2079.5 532.2C2081 532.2 2082.5 535.4 2084 538.9C2085.1 541.5 2086.2 551.2 2087.3 554.6C2089.2 560.5 2091.1 563 2093 567C2094.5 570.1 2095.9 574 2097.4 575.9C2098.5 577.4 2099.7 577.1 2100.8 579.3C2101.4 580.4 2101.9 588.3 2102.5 592.8" stroke="#000080"/>
<path d="M170 375.8C230.9 375.7 291.9 375.8 352.8 375.5C357.1 375.5 361.5 373.1 365.8 371.4C376.7 367.1 387.6 358.4 398.5 351.2C409.3 344.1 420.2 335.7 431 328.3C437.6 323.8 444.1 319.1 450.7 315.3C461.6 309 472.4 303.3 483.3 299C493.1 295.1 502.9 292.4 512.7 289.2C520.3 286.7 527.9 283.7 535.5 281.7C541.5 280.1 547.5 277.7 553.5 277.7C557.3 277.7 561.2 278.6 565 279.4C574.8 281.5 584.5 288.2 594.3 294C599.7 297.2 605.2 301.5 610.6 305.5C620.4 312.7 630.2 323.5 640 328.3C644.3 330.4 648.7 331.8 653 333.2C658.4 334.9 663.9 335.7 669.3 337.5C672.5 338.5 675.8 339.8 679 341.4C687.7 345.7 696.5 360.3 705.2 360.3C708.5 360.3 711.7 360.3 715 360.3C721.5 360.3 728.1 356.3 734.6 353.8C737.9 352.5 741.1 349.5 744.4 349.5C747.7 349.5 750.9 352.1 754.2 353.8C757.5 355.5 760.7 359.7 764 360.3C767.8 361.1 771.6 360.9 775.4 361.6C780.3 362.5 785.1 367.3 790 369.1C795.5 371.2 800.9 373.2 806.4 374C811.8 374.8 817.3 375.6 822.7 375.6C835.1 375.6 847.6 375.5 860 375.5C906.7 375.4 953.3 375.3 1000 375.2C1018.6 375.1 1037.3 375.1 1055.9 375C1065.2 374.9 1074.6 373.2 1083.9 373.2C1090.1 373.2 1096.4 374.8 1102.6 374.8C1108.8 374.8 1115 373.2 1121.2 372C1127.4 370.8 1133.7 368.3 1139.9 367.4C1143 367 1146.1 367 1149.2 366.4C1151.7 365.9 1154.1 361.8 1156.6 361.8C1157.9 361.8 1159.1 369.6 1160.4 370.2C1162.9 371.4 1165.3 371.1 1167.8 372C1169.7 372.7 1171.5 375.8 1173.4 375.8C1175.9 375.8 1178.4 371.1 1180.9 371.1C1185.9 371.1 1190.8 372 1195.8 372C1202 372 1208.3 370.2 1214.5 370.2C1218.8 370.2 1223.2 371.2 1227.5 372C1230.6 372.6 1233.7 374.8 1236.8 374.8C1239.9 374.8 1243.1 373.2 1246.2 372C1248.7 371.1 1251.1 368.3 1253.6 368.3C1256.1 368.3 1258.6 370.7 1261.1 372C1263.6 373.2 1266 375.8 1268.5 375.8C1278.5 375.8 1288.4 375 1298.4 375C1317 375 1335.7 375 1354.3 375C1365 375 1375.8 375.3 1386.5 375.3C1388.4 375.3 1390.4 374.5 1392.3 373.7C1393.6 373.2 1394.8 372.1 1396.1 370.7C1397 369.7 1397.9 367.8 1398.8 366C1399.6 364.4 1400.3 362.5 1401.1 360.3C1401.9 358.1 1402.6 355.7 1403.4 352.6C1404 350 1404.7 346.2 1405.3 343C1405.9 339.8 1406.6 336.8 1407.2 333.4C1407.6 331.1 1408.1 328.8 1408.5 326C1409.2 321.3 1410 314.6 1410.7 309.8C1413.1 293.9 1415.6 284.5 1418 268.9C1420.1 255.2 1422.3 234 1424.4 221.3C1426 212 1427.5 203.5 1429.1 197.6C1430.7 191.6 1432.3 186.7 1433.9 183.3C1435.5 179.9 1437 178 1438.6 175.4C1440.2 172.7 1441.8 168.9 1443.4 167.4C1445.5 165.5 1447.6 163.5 1449.7 163.5C1452.4 163.5 1455 166 1457.7 169C1459.3 170.8 1460.8 174.9 1462.4 180.1C1463.7 184.6 1465.1 194.5 1466.4 202.3C1467.7 209.9 1469 220.5 1470.3 226.1C1471.9 233 1473.5 240.8 1475.1 241.9C1476.4 242.8 1477.8 243.5 1479.1 243.5C1480.9 243.5 1482.8 236.1 1484.6 234C1486.5 231.9 1488.3 229.3 1490.2 229.3C1492 229.3 1493.9 234.7 1495.7 238.8C1498.9 245.8 1502 257.2 1505.2 270.5C1507.3 279.5 1509.5 294.2 1511.6 305.3C1513.7 316.3 1515.8 329.5 1517.9 337C1519.5 342.7 1521.1 350.5 1522.7 350.5C1524.3 350.5 1525.8 348.4 1527.4 346.5C1530 343.3 1532.7 334.6 1535.3 327.5C1536.4 324.6 1537.4 319 1538.5 318C1540.6 316 1542.7 316.5 1544.8 314.8C1546.4 313.5 1548 309.6 1549.6 305.3C1551.7 299.6 1553.8 283.7 1555.9 276.8C1558 269.8 1560.2 260.2 1562.3 260.2C1564.1 260.2 1566 263.4 1567.8 267.3C1569.7 271.3 1571.5 291 1573.4 300.6C1575.5 311.4 1577.6 323.1 1579.7 329.1C1582.9 338.1 1586 348.1 1589.2 348.1C1590.8 348.1 1592.4 347.7 1594 347.3C1596.1 346.7 1598.2 341 1600.3 341C1602.9 341 1605.6 344.2 1608.2 344.2C1611.9 344.2 1615.6 339.4 1619.3 339.4C1621.2 339.4 1623 340.7 1624.9 341.8C1627.8 343.5 1630.7 350.7 1633.6 351.3C1635.7 351.8 1637.8 352.1 1639.9 352.1C1643.6 352.1 1647.3 347.3 1651 347.3C1652.6 347.3 1654.2 349.4 1655.8 351.3C1658.4 354.4 1661.1 368.9 1663.7 370.3C1666.3 371.7 1669 371.6 1671.6 372.7C1673.5 373.5 1675.3 375.9 1677.2 375.9C1679 375.9 1680.9 367.3 1682.7 362.4C1684.8 356.7 1687 346.7 1689.1 343.4C1691.7 339.4 1694.4 338.8 1697 335.4C1700.2 331.3 1703.3 325.2 1706.5 318C1708.9 312.5 1711.3 302.2 1713.7 296.9C1716 291.9 1718.2 291.4 1720.5 284.9C1721.7 281.5 1722.8 272.5 1724 264.4C1725.2 256.3 1726.3 242.2 1727.5 235C1728.9 226.4 1730.3 219.1 1731.7 215C1733.8 208.8 1735.9 204.4 1738 202C1741 198.5 1744 198.6 1747 195C1748.7 193 1750.3 189.5 1752 184C1753.3 179.9 1754.5 171 1755.8 161.6C1756.5 156.2 1757.3 146.6 1758 141C1759.2 132.1 1760.3 127 1761.5 119C1762.4 112.6 1763.4 102.4 1764.3 98C1765.2 93.6 1766.2 88.5 1767.1 88.5C1768.1 88.5 1769 93 1770 96.5C1771.4 101.5 1772.8 110.9 1774.2 119.2C1775.6 127.7 1777.1 136.9 1778.5 147.5C1779.9 157.9 1781.3 172.5 1782.7 182.9C1784.1 193.5 1785.6 200.8 1787 211.2C1788.2 219.7 1789.3 231.1 1790.5 239.5C1791.7 247.9 1792.8 255.7 1794 262C1794.9 266.8 1795.8 273.4 1796.7 274.6C1798.7 277.3 1800.7 277 1802.7 278.9C1805 281 1807.3 284.1 1809.6 288.3C1812.4 293.4 1815.3 302.9 1818.1 312.3C1819.8 318.1 1821.6 326.1 1823.3 332.8C1825 339.3 1826.7 352 1828.4 352C1830.7 352 1833 350.7 1835.3 350.5C1838.7 350.2 1842.1 350 1845.5 350C1848.4 350 1851.2 360.1 1854.1 364C1856.4 367.1 1858.6 370.6 1860.9 372.2C1862.9 373.6 1865 375.3 1867 375.3C1868.4 375.3 1869.8 372 1871.2 368.8C1872.6 365.5 1874.1 354.2 1875.5 350C1876.7 346.4 1878 341.8 1879.2 341.8C1880.5 341.8 1881.9 346.9 1883.2 350C1885 354.2 1886.7 364.2 1888.5 365C1890.7 366 1893 366.1 1895.2 366.5C1898.6 367.1 1902 368 1905.4 368C1907.7 368 1910 362.9 1912.3 361.7C1915.7 360 1919 359 1922.4 358.2C1927.3 357 1932.1 357.5 1937 355.4C1938.1 354.9 1939.3 348.7 1940.4 345.8C1941.5 342.9 1942.7 338 1943.8 338C1944.9 338 1946 338.2 1947.1 338.5C1948.6 338.9 1950.1 341.8 1951.6 342.5C1954.2 343.7 1956.9 344.7 1959.5 344.7C1962.1 344.7 1964.7 344.2 1967.3 343.6C1969.5 343.1 1971.8 340.2 1974 338C1976.3 335.8 1978.5 333.2 1980.8 330.1C1982.7 327.6 1984.5 325.8 1986.4 321.2C1987.5 318.5 1988.6 312.3 1989.7 306.6C1990.8 300.7 1992 290.1 1993.1 285.3C1994 281.4 1995 276.3 1995.9 276.3C1996.8 276.3 1997.8 279.3 1998.7 281.9C1999.8 285.1 2001 297.9 2002.1 298.7C2003 299.4 2004 299.8 2004.9 299.8C2006.2 299.8 2007.5 292.7 2008.8 287.5C2009.9 283 2011.1 276.3 2012.2 269.6C2013.3 263.1 2014.4 251.8 2015.5 247.1C2016.6 242.2 2017.8 236.5 2018.9 236.5C2020 236.5 2021.2 240 2022.3 242.6C2023.8 246 2025.3 255.4 2026.8 257.2C2028.3 259 2029.8 259.5 2031.3 260.6C2032.8 261.7 2034.2 262.3 2035.7 263.9C2037.6 266 2039.4 273.9 2041.3 277.4C2044.3 283.1 2047.3 289.3 2050.3 290.9C2052.6 292.1 2054.8 292.5 2057.1 293.1C2060.5 294 2063.8 294 2067.2 295.4C2069.1 296.2 2070.9 301.1 2072.8 302.1C2075 303.3 2077.3 303 2079.5 304.3C2081.4 305.4 2083.2 309.9 2085.1 315.5C2086.2 318.9 2087.4 329.1 2088.5 333.5C2090.4 340.8 2092.2 347.1 2094.1 350.3C2095.6 352.9 2097.1 353.2 2098.6 355.9C2099.7 357.9 2100.8 360.7 2101.9 366C2102.3 367.8 2102.6 372 2103 375" stroke="#800080"/>
</g>
<g font-size="77.4">
<text transform="translate(170.0,1533) scale(1,1.015)" text-anchor="middle">4000</text>
<text transform="translate(438.4,1533) scale(1,1.015)" text-anchor="middle">3500</text>
<text transform="translate(706.9,1533) scale(1,1.015)" text-anchor="middle">3000</text>
<text transform="translate(975.3,1533) scale(1,1.015)" text-anchor="middle">2500</text>
<text transform="translate(1243.7,1533) scale(1,1.015)" text-anchor="middle">2000</text>
<text transform="translate(1512.2,1533) scale(1,1.015)" text-anchor="middle">1500</text>
<text transform="translate(1780.6,1533) scale(1,1.015)" text-anchor="middle">1000</text>
<text transform="translate(2049.0,1533) scale(1,1.015)" text-anchor="middle">500</text>
</g>
<g font-size="67.9">
<text transform="translate(859.2,342.8) scale(1,1.05)">Gel/Alg/BSA/HAp</text>
<text transform="translate(880.9,556.6) scale(1,1.05)">Gel/Alg/Fib/HAp</text>
<text transform="translate(915.6,770) scale(1,1.05)">Gel/Alg/BSA</text>
<text transform="translate(931.3,993.4) scale(1,1.05)">Gel/Alg/Fib</text>
<text transform="translate(919.5,1220.5) scale(1,1.05)">Gel/Alg/HAp</text>
</g>
<text transform="translate(735,1651) scale(1,1.027)" font-size="91.7">Wavenumber (cm<tspan x="719.6" y="-34" font-size="64">-</tspan><tspan x="743.6" y="-37" font-size="61">1</tspan><tspan x="780.5" y="0">)</tspan></text>
<text transform="translate(98.5,1054) rotate(-90) scale(1,1.028)" font-size="92.3">Absorbance (a.u.)</text>
</svg>
</body></html>
